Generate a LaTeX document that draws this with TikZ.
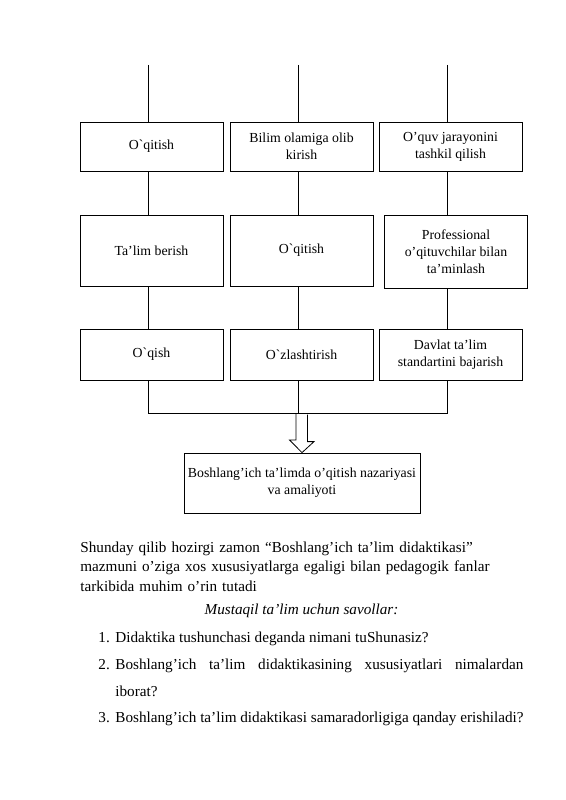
\documentclass[tikz,border=0pt]{standalone}
\usepackage{fontspec}
\setmainfont{Liberation Serif}
\begin{document}
\begin{tikzpicture}[x=1pt,y=-1pt,line width=0.8pt,
    box/.style={draw, rectangle, align=center, inner sep=2pt,
      font=\fontsize{13.8}{16.8}\selectfont},
    bodytext/.style={anchor=base west, align=left, inner sep=0pt,
      font=\fontsize{15.2}{19.5}\selectfont}]
            \useasboundingbox (0,0) rectangle (565,800);

            % Columns
            \coordinate (c1) at (148.5,65);
            \coordinate (c2) at (298.5,65);
            \coordinate (c3) at (447.5,65);

            % First row
            \node[box, minimum width=143, minimum height=49] (ta1) at (151.5,146.5) {O\textasciigrave qitish};
            \node[box, minimum width=143, minimum height=49] (ta2) at (301.5,146.5) {Bilim olamiga olib\\kirish};
            \node[box, minimum width=143, minimum height=49] (ta3) at (450.5,146.5) {O’quv jarayonini\\tashkil qilish};

            % Second row
            \node[box, minimum width=143, minimum height=71] (tb1) at (151.5,250.5) {Ta’lim berish};
            \node[box, minimum width=143, minimum height=71] (tb2) at (301.5,250.5) {O\textasciigrave qitish};
            \node[box, minimum width=143, minimum height=73] (tb3) at (456,251.5) {Professional\\o’qituvchilar bilan\\ta’minlash};

            % Third row
            \node[box, minimum width=143, minimum height=51] (tc1) at (151.5,354.5) {O\textasciigrave qish};
            \node[box, minimum width=143, minimum height=51] (tc2) at (301.5,354.5) {O\textasciigrave zlashtirish};
            \node[box, minimum width=143, minimum height=51] (tc3) at (450.5,354.5) {Davlat ta’lim\\standartini bajarish};

            % Result
            \node[box, minimum width=236, minimum height=60] (fin) at (302,483) {Boshlang’ich ta’limda o’qitish nazariyasi\\va amaliyoti};

            % Vertical links
            \draw (c1) -- (ta1.north -| c1);
            \draw (c2) -- (ta2.north -| c2);
            \draw (c3) -- (ta3.north -| c3);
            \draw (ta1.south -| c1) -- (tb1.north -| c1);
            \draw (ta2.south -| c2) -- (tb2.north -| c2);
            \draw (ta3.south -| c3) -- (tb3.north -| c3);
            \draw (tb1.south -| c1) -- (tc1.north -| c1);
            \draw (tb2.south -| c2) -- (tc2.north -| c2);
            \draw (tb3.south -| c3) -- (tc3.north -| c3);

            % Merge
            \coordinate (m) at (301.5,413);
            \draw (tc1.south -| c1) -- (c1 |- m) -- (c3 |- m) -- (tc3.south -| c3);
            \draw (tc2.south -| c2) -- (c2 |- m);
            \draw[line join=miter] (m) ++(-5.5,0) -- ++(0,27) -- ++(-6.5,0) -- (fin.north)
                -- ++(12,-11) -- ++(-6.5,0) -- ++(0,-27);

            % Text below
            \node[bodytext, text width=450] (para) at (80,552) {Shunday qilib hozirgi zamon “Boshlang’ich ta’lim didaktikasi”\\mazmuni o’ziga xos xususiyatlarga egaligi bilan pedagogik fanlar\\tarkibida muhim o’rin tutadi};
            \node[bodytext, anchor=base, font=\fontsize{15.2}{19.5}\selectfont\itshape] (qtitle) at (301.5,614) {Mustaqil ta’lim uchun savollar:};

            \node[bodytext] (n1) at (98,642) {1.};
            \node[bodytext] (q1) at (115,642) {Didaktika tushunchasi deganda nimani tuShunasiz?};
            \node[bodytext] (n2) at (98,669) {2.};
            \node[bodytext, text width=408, font=\fontsize{15.2}{27}\selectfont] (q2) at (115,669) {Boshlang’ich\hfill ta’lim\hfill didaktikasining\hfill xususiyatlari\hfill nimalardan\\iborat?};
            \node[bodytext] (n3) at (98,722) {3.};
            \node[bodytext] (q3) at (115,722) {Boshlang’ich ta’lim didaktikasi samaradorligiga qanday erishiladi?};
\end{tikzpicture}
\end{document}
